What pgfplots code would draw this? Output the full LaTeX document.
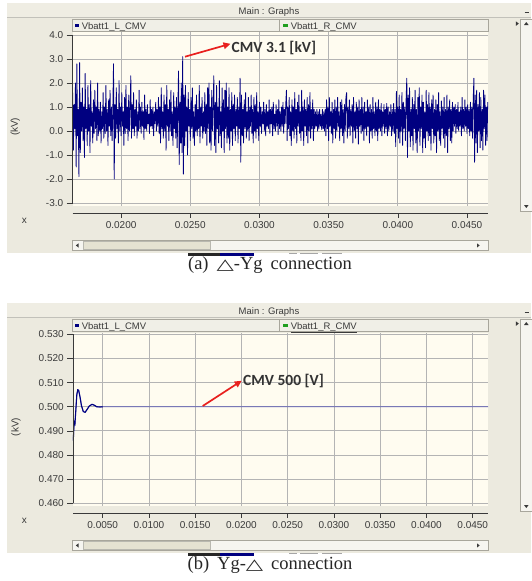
\documentclass[border=0pt]{standalone}
\usepackage{fontspec}
\setmainfont{Liberation Sans}
\newfontfamily\calib{Carlito}
\newfontfamily\capfont{Liberation Serif}
\newfontfamily\symfont{DejaVu Sans}
\usepackage{graphicx}
\usepackage{pgfplots}
\usepackage{pgfplotstable}
\pgfplotsset{compat=1.18}
\usetikzlibrary{arrows.meta}

\definecolor{WinBg}{HTML}{ECEADF}
\definecolor{TitleBg}{HTML}{EFEDE3}
\definecolor{LegBg}{HTML}{F0EFE7}
\definecolor{Track}{HTML}{F6F5F0}
\definecolor{Thumb}{HTML}{E5E2D2}
\definecolor{Edge}{HTML}{A8A69C}
\definecolor{PlotBg}{HTML}{FFFCF0}
\definecolor{GridC}{HTML}{B4B4B4}
\definecolor{Navy}{HTML}{000080}
\definecolor{LineB}{HTML}{5A5AB8}
\definecolor{LegGreen}{HTML}{1E9E1E}
\definecolor{TxtC}{HTML}{3A3A3A}
\definecolor{ArrowRed}{HTML}{E8201E}

\newcommand{\wf}{\fontsize{9.5}{11}\selectfont}
\newcommand{\tf}{\fontsize{10}{12}\selectfont}
\newcommand{\capf}{\capfont\fontsize{18.5}{22}\selectfont}
\newcommand{\tri}{{\symfont\fontsize{15}{15}\selectfont\scalebox{1.5}[1]{△}}}

% sampled CMV, panel (a): one value every 50 us from t = 16.5 ms
\pgfplotstableread[row sep=\\]{
v\\
1.6\\ -0.8\\ 1.1\\ 0.1\\ 2.0\\ -1.5\\ 2.8\\ -0.2\\ 0.9\\ -1.9\\ 2.85\\ -0.9\\ 1.2\\ 0.0\\ 1.8\\ -0.4\\ 1.0\\ -1.1\\ 2.4\\ 0.1\\
0.9\\ -0.6\\ 1.9\\ 0.0\\ 1.1\\ -0.9\\ 2.1\\ 0.2\\ 0.8\\ -0.5\\ 1.3\\ -0.1\\ 1.7\\ 0.1\\ 1.0\\ -0.4\\ 2.0\\ -0.2\\ 0.9\\ 0.0\\
1.2\\ -0.5\\ 0.8\\ 0.1\\ 1.6\\ -0.3\\ 1.0\\ -0.1\\ 1.9\\ 0.0\\ 0.9\\ -0.6\\ 1.3\\ 0.2\\ 1.7\\ -0.2\\ 1.0\\ -0.4\\ 0.9\\ 2.8\\
-2.0\\ 1.1\\ -0.3\\ 1.8\\ 0.1\\ 0.9\\ -0.5\\ 2.1\\ 0.0\\ 1.0\\ -0.2\\ 1.6\\ 0.2\\ 0.8\\ -0.6\\ 1.4\\ -0.1\\ 1.9\\ 0.1\\ 1.0\\
-0.4\\ 1.5\\ 0.0\\ 0.9\\ 2.3\\ -0.3\\ 1.1\\ 0.1\\ 1.6\\ -0.2\\ 0.9\\ 0.2\\ 1.3\\ -0.3\\ 0.8\\ 0.0\\ 1.7\\ 0.1\\ 1.0\\ -0.1\\
1.2\\ 0.2\\ 0.8\\ -0.35\\ 1.5\\ 0.1\\ 0.9\\ 0.0\\ 1.1\\ 0.3\\ 0.7\\ -0.1\\ 1.3\\ 0.2\\ 0.9\\ 0.1\\ 1.0\\ -0.2\\ 0.8\\ 0.3\\
1.2\\ 0.0\\ 0.9\\ 0.2\\ 1.4\\ -0.1\\ 1.0\\ -0.5\\ 1.8\\ 0.1\\ 0.8\\ -0.3\\ 1.5\\ 0.0\\ 1.1\\ -0.8\\ 1.9\\ 0.2\\ 0.9\\ -0.4\\
1.3\\ 0.0\\ 1.7\\ -0.2\\ 0.8\\ -0.6\\ 1.6\\ 0.1\\ 1.0\\ -0.3\\ 1.4\\ -0.7\\ 0.9\\ 2.5\\ -1.4\\ 1.2\\ -0.5\\ 2.0\\ -0.9\\ 3.1\\
-1.8\\ 1.5\\ -0.6\\ 1.9\\ 0.0\\ 1.0\\ -1.0\\ 1.6\\ 0.2\\ 0.9\\ -0.4\\ 1.4\\ 0.1\\ 1.8\\ -0.3\\ 0.8\\ -0.6\\ 1.1\\ 0.0\\ 1.5\\
-0.2\\ 0.9\\ 0.1\\ 1.9\\ -0.5\\ 1.0\\ 0.2\\ 1.4\\ -0.3\\ 0.8\\ 0.0\\ 1.6\\ -0.1\\ 1.1\\ -0.6\\ 1.8\\ 0.1\\ 2.0\\ -0.5\\ 1.0\\
-0.8\\ 1.7\\ 0.0\\ 0.9\\ 2.3\\ -0.6\\ 1.2\\ -0.9\\ 1.9\\ 0.1\\ 1.0\\ -0.5\\ 2.1\\ -0.2\\ 0.8\\ -0.7\\ 1.8\\ 0.0\\ 1.3\\ -0.9\\
1.7\\ 0.1\\ 2.0\\ -0.5\\ 1.0\\ -0.3\\ 1.8\\ -0.8\\ 0.9\\ 0.0\\ 1.6\\ -0.6\\ 1.1\\ 0.1\\ 1.5\\ -0.4\\ 0.9\\ 0.2\\ 1.4\\ -0.5\\
1.0\\ 0.1\\ 2.2\\ -1.3\\ 1.5\\ -0.2\\ 0.9\\ -0.5\\ 1.3\\ 0.1\\ 1.6\\ -0.3\\ 0.8\\ 0.0\\ 1.4\\ -0.4\\ 1.0\\ 0.2\\ 1.5\\ -0.1\\
0.9\\ -0.5\\ 1.4\\ 0.0\\ 1.1\\ -0.3\\ 1.6\\ 0.1\\ 0.8\\ -0.4\\ 1.2\\ 0.2\\ 1.0\\ -0.1\\ 0.8\\ 0.3\\ 1.2\\ 0.0\\ 0.9\\ -0.2\\
1.1\\ 0.2\\ 0.8\\ 0.1\\ 1.3\\ -0.1\\ 0.9\\ 0.3\\ 1.0\\ -0.2\\ 1.2\\ 0.1\\ 0.7\\ 0.0\\ 1.1\\ 0.2\\ 0.9\\ -0.15\\ 1.3\\ 0.1\\
0.8\\ 0.0\\ 1.0\\ 0.2\\ 1.2\\ -0.1\\ 0.9\\ 0.3\\ 1.1\\ 1.7\\ -0.4\\ 1.0\\ 0.1\\ 1.4\\ -0.2\\ 0.8\\ -0.6\\ 1.3\\ 0.0\\ 1.0\\
-0.3\\ 1.6\\ 0.1\\ 0.9\\ -0.5\\ 1.2\\ 0.2\\ 1.5\\ -0.1\\ 0.8\\ -0.4\\ 1.7\\ 0.0\\ 1.0\\ -0.6\\ 1.3\\ 0.2\\ 0.9\\ -0.2\\ 1.4\\
-0.5\\ 1.1\\ 0.0\\ 1.6\\ -0.3\\ 0.9\\ 0.1\\ 1.3\\ -0.4\\ 0.9\\ 0.1\\ 0.8\\ 0.2\\ 0.9\\ 0.0\\ 0.8\\ 0.1\\ 0.9\\ 0.2\\ 0.7\\
0.05\\ 0.9\\ 0.1\\ 0.8\\ 0.0\\ 0.9\\ -0.2\\ 1.3\\ 0.1\\ 1.0\\ -0.4\\ 1.4\\ 0.2\\ 0.8\\ -0.1\\ 1.2\\ -0.5\\ 0.9\\ 0.1\\ 1.3\\
-0.3\\ 1.0\\ 0.0\\ 1.4\\ 0.2\\ 0.8\\ -0.4\\ 1.2\\ 0.1\\ 1.3\\ -0.2\\ 0.9\\ -0.5\\ 1.1\\ 0.0\\ 1.4\\ 1.6\\ -0.3\\ 1.0\\ 0.1\\
1.3\\ -0.2\\ 0.9\\ 0.2\\ 1.1\\ -0.5\\ 1.4\\ 0.0\\ 0.8\\ -0.3\\ 1.2\\ 0.1\\ 1.0\\ -0.55\\ 1.3\\ 0.2\\ 0.9\\ -0.1\\ 1.4\\ 0.0\\
1.0\\ -0.4\\ 1.2\\ 0.1\\ 0.8\\ -0.2\\ 1.3\\ 0.2\\ 1.0\\ -0.5\\ 1.1\\ 0.0\\ 0.9\\ -0.3\\ 1.4\\ 0.1\\ 0.8\\ -0.2\\ 1.2\\ 0.0\\
1.0\\ -0.4\\ 1.3\\ 0.1\\ 0.9\\ 0.0\\ 1.15\\ -0.2\\ 0.8\\ 0.2\\ 1.1\\ -0.1\\ 0.9\\ 0.1\\ 1.15\\ -0.2\\ 1.0\\ 0.0\\ 0.8\\ 0.2\\
1.1\\ -0.2\\ 0.9\\ 0.0\\ 1.15\\ -0.1\\ 0.9\\ -0.65\\ 1.65\\ 0.1\\ 1.0\\ -0.3\\ 1.5\\ -0.5\\ 0.9\\ 0.0\\ 1.6\\ -0.6\\ 1.2\\ 0.1\\
1.0\\ -0.4\\ 1.3\\ 2.2\\ -1.1\\ 1.5\\ 0.0\\ 1.8\\ -0.65\\ 0.9\\ -0.2\\ 1.4\\ -0.8\\ 1.1\\ 0.1\\ 1.7\\ -0.5\\ 0.9\\ -0.9\\ 1.4\\
0.0\\ 1.8\\ -0.6\\ 1.0\\ 0.1\\ 1.5\\ -0.9\\ 1.2\\ -0.3\\ 0.8\\ -0.7\\ 1.7\\ 0.0\\ 1.1\\ -0.4\\ 1.6\\ -0.2\\ 1.0\\ -0.8\\ 1.3\\
0.1\\ 1.5\\ -0.5\\ 0.9\\ -0.2\\ 1.3\\ -0.9\\ 1.1\\ 0.0\\ 1.6\\ -0.4\\ 0.8\\ -0.6\\ 1.25\\ 0.1\\ 1.0\\ -0.3\\ 1.4\\ -0.7\\ 0.9\\
-0.2\\ 1.5\\ -0.9\\ 1.0\\ 0.1\\ 1.3\\ -0.4\\ 0.9\\ -0.5\\ 1.2\\ 0.0\\ 1.0\\ 0.2\\ 1.1\\ -0.1\\ 0.9\\ 0.1\\ 1.2\\ 0.0\\ 0.8\\
0.2\\ 1.0\\ -0.2\\ 1.4\\ 0.1\\ 0.9\\ 0.0\\ 1.3\\ 0.2\\ 1.0\\ -0.1\\ 1.1\\ 0.1\\ 0.9\\ -0.2\\ 1.2\\ 0.0\\ 1.0\\ -0.3\\ 1.3\\
2.2\\ -1.3\\ 1.5\\ -0.5\\ 1.7\\ -0.9\\ 1.1\\ 0.0\\ 1.6\\ -0.7\\ 1.4\\ -0.4\\ 0.9\\ -0.8\\ 1.7\\ 0.1\\ 1.5\\ -0.6\\ 1.0\\ -0.4\\
1.2\\
}\cmvA

\pgfplotsset{
  pscad/.style={scale only axis, anchor=south west, clip=false,
    axis background/.style={fill=PlotBg},
    axis x line=bottom, axis y line=left,
    axis line style={-, draw=none},
    xtick style={draw=none}, xticklabels={},
    ytick style={draw=TxtC, line width=0.6pt},
    tick align=outside, major tick length=6pt,
    grid=major, major grid style={draw=GridC, line width=0.8pt},
    tick label style={font=\tf, text=TxtC},
    /pgf/number format/assume math mode=true, scaled ticks=false,
    every axis y label/.style={at={(axis description cs:-0.138,0.455)},
      rotate=90, anchor=center, font=\tf, text=TxtC}},
  xbar/.style={scale only axis, anchor=south west, height=1pt, ymin=0, ymax=1,
    hide y axis, axis x line=bottom,
    x axis line style={-, draw=TxtC, line width=0.8pt},
    tick align=outside, major tick length=4pt,
    xtick style={draw=TxtC, line width=0.6pt},
    tick label style={font=\tf, text=TxtC},
    /pgf/number format/assume math mode=true, scaled ticks=false},
}

\newcommand{\window}{%
  \fill[WinBg] (7,3) rectangle (531,252.5);
  \fill[TitleBg] (7,3) rectangle (531,17.5);
  \draw[Edge!70, line width=0.5pt] (7,17.7) -- (531,17.7);
  \node[font=\wf, text=TxtC, anchor=base] at (269,14.3) {Main : Graphs};
  \draw[TxtC, line width=1pt] (524.5,12.5) -- (529,12.5);
  \filldraw[fill=LegBg, draw=Edge, line width=0.5pt] (72.7,19.2) rectangle (488,31.6);
  \draw[Edge, line width=0.5pt] (279,19.2) -- (279,31.6);
  \fill[Navy] (74.6,23.6) rectangle (79.4,27.4);
  \node[font=\wf, text=TxtC, anchor=base west, inner sep=0pt] at (81.6,29) {Vbatt1\_L\_CMV};
  \fill[LegGreen] (283.2,23.6) rectangle (288,27.4);
  \node[font=\wf, text=TxtC, anchor=base west, inner sep=0pt] at (290.6,29) {\underline{Vbatt1\_R\_CMV}};
  \fill[TxtC] (515.8,21.3) -- (518.8,23.6) -- (515.8,25.9) -- cycle;
  \filldraw[fill=Track, draw=Edge, line width=0.5pt] (520.6,19.2) rectangle (532,211);
  \fill[TxtC] (524,25) -- (526.3,22) -- (528.6,25) -- cycle;
  \fill[TxtC] (524,205) -- (526.3,208) -- (528.6,205) -- cycle;
  \node[font=\tf, text=TxtC, anchor=base] at (24.4,223.3) {x};
  \filldraw[fill=Track, draw=Edge, line width=0.5pt] (72.7,240.7) rectangle (488,250.2);
  \filldraw[fill=Thumb, draw=Edge!80, line width=0.4pt] (83,241.3) rectangle (210,249.6);
  \fill[TxtC] (78.5,243.4) -- (75.8,245.45) -- (78.5,247.5) -- cycle;
  \fill[TxtC] (477,243.4) -- (479.7,245.45) -- (477,247.5) -- cycle;
  \fill[black!85] (188,252.5) rectangle (220,255.5);
  \fill[Navy] (220,252.5) rectangle (254,255.5);
  \fill[black!35] (289,252.5) rectangle (297,254.2);
  \fill[black!35] (300,252.5) rectangle (318,254.2);
  \fill[black!35] (322,252.5) rectangle (342,254.2);
}

\begin{document}
\begin{tikzpicture}
\path[use as bounding box] (0,0) rectangle (531pt,-581pt);
\begin{scope}[x=1pt,y=-1pt]
  \window
  \begin{scope}[yshift=-300pt]\window\end{scope}
\end{scope}

% (a) Delta-Yg
\begin{axis}[pscad, at={(72.7pt,-206pt)}, width=415.3pt, height=174pt,
  xmin=0.0165, xmax=0.04652, ymin=-3.125, ymax=4.125,
  xtick={0.02,0.025,0.03,0.035,0.04,0.045},
  ytick={-3,-2,-1,0,1,2,3,4},
  yticklabels={-3.0,-2.0,-1.0,0.0,1.0,2.0,3.0,4.0},
  ylabel={(kV)}]
\addplot[Navy, line width=0.8pt, line join=round, no marks]
  table[x expr=0.0165+\coordindex*0.00005, y=v] {\cmvA};
\draw[TxtC, line width=0.8pt] (axis cs:0.0165,-3) -- (axis cs:0.0165,4);
\end{axis}
\begin{axis}[xbar, at={(72.7pt,-213.5pt)}, width=415.3pt,
  xmin=0.0165, xmax=0.04652,
  xtick={0.02,0.025,0.03,0.035,0.04,0.045},
  xticklabels={0.0200,0.0250,0.0300,0.0350,0.0400,0.0450}]
\addplot[draw=none] coordinates {(0.03,0.5)};
\end{axis}

% (b) Yg-Delta
\begin{axis}[pscad, at={(73.3pt,-506pt)}, width=414.7pt, height=173.5pt,
  xmin=0.00182, xmax=0.04665, ymin=0.45888, ymax=0.53075,
  xtick={0.005,0.01,0.015,0.02,0.025,0.03,0.035,0.04,0.045},
  ytick={0.46,0.47,0.48,0.49,0.50,0.51,0.52,0.53},
  yticklabels={0.460,0.470,0.480,0.490,0.500,0.510,0.520,0.530},
  ylabel={(kV)}]
\addplot[LineB, line width=0.9pt, no marks] coordinates {
  (0.00182,0.4860)(0.00188,0.4915)(0.00194,0.4935)(0.00200,0.4930)
  (0.00210,0.4990)(0.00220,0.5050)(0.00230,0.5070)(0.00240,0.5068)
  (0.00255,0.5040)(0.00270,0.5005)(0.00290,0.4980)(0.00310,0.4977)
  (0.00330,0.4988)(0.00355,0.5003)(0.00385,0.5010)(0.00410,0.5006)
  (0.00435,0.5000)(0.00470,0.4999)(0.00500,0.5000)(0.04665,0.5000)};
\addplot[Navy, line width=1.1pt, no marks] coordinates {
  (0.00182,0.4860)(0.00188,0.4915)(0.00194,0.4935)(0.00200,0.4930)
  (0.00210,0.4990)(0.00220,0.5050)(0.00230,0.5070)(0.00240,0.5068)
  (0.00255,0.5040)(0.00270,0.5005)(0.00290,0.4980)(0.00310,0.4977)
  (0.00330,0.4988)(0.00355,0.5003)(0.00385,0.5010)(0.00410,0.5006)
  (0.00435,0.5000)(0.00470,0.4999)(0.00500,0.5000)};
\draw[TxtC, line width=0.8pt] (axis cs:0.00182,0.46) -- (axis cs:0.00182,0.53);
\end{axis}
\begin{axis}[xbar, at={(73.3pt,-513.5pt)}, width=414.7pt,
  xmin=0.00182, xmax=0.04665,
  xtick={0.005,0.01,0.015,0.02,0.025,0.03,0.035,0.04,0.045},
  xticklabels={0.0050,0.0100,0.0150,0.0200,0.0250,0.0300,0.0350,0.0400,0.0450}]
\addplot[draw=none] coordinates {(0.02,0.5)};
\end{axis}

\begin{scope}[x=1pt,y=-1pt]
  \draw[ArrowRed, line width=1.7pt, -{Triangle[length=7pt,width=6.5pt]}] (185,56.7) -- (230.5,43.8);
  \node[font=\calib\bfseries\fontsize{15.5}{18}\selectfont, text=black!80, anchor=base west, inner sep=0pt]
    at (231.5,52) {CMV 3.1 [kV]};
  \draw[ArrowRed, line width=1.7pt, -{Triangle[length=7pt,width=6.5pt]}] (202.7,406) -- (241.7,380.7);
  \node[font=\calib\bfseries\fontsize{15.5}{18}\selectfont, text=black!80, anchor=base west, inner sep=0pt]
    at (243,385.5) {CMV 500 [V]};
  \node[font=\capf, text=black!85, anchor=base] at (270,269.5)
    {(a)\hspace{8pt}\tri-Yg\hspace{8pt}connection};
  \node[font=\capf, text=black!85, anchor=base] at (270,569.5)
    {(b)\hspace{8pt}Yg-\tri\hspace{8pt}connection};
\end{scope}
\end{tikzpicture}
\end{document}
